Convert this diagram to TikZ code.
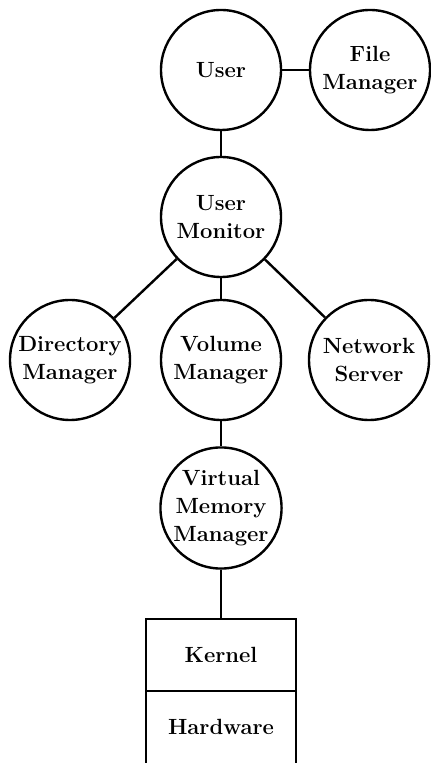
\documentclass[tikz,border=0pt]{standalone}
\usepackage{tikz}
\usetikzlibrary{positioning}

\begin{document}
\begin{tikzpicture}[
  x=0.5pt, y=-0.5pt,
  proc/.style={circle, draw, line width=1.2pt, minimum size=60pt, inner sep=0pt, align=center, font=\fontsize{11}{14}\selectfont\bfseries},
  layer/.style={rectangle, minimum width=75pt, minimum height=36pt, inner sep=0pt, outer sep=0pt, font=\fontsize{11}{14}\selectfont\bfseries},
  link/.style={line width=1.2pt}
]
\useasboundingbox (0,0) rectangle (430,763);
\node[proc] (user) at (221,70) {User};
\node[proc] (filemgr) at (370,70) {File\\Manager};
\node[proc] (usermon) at (221,217) {User\\Monitor};
\node[proc] (dirmgr) at (70,360) {Directory\\Manager};
\node[proc] (volmgr) at (221,360) {Volume\\Manager};
\node[proc] (netsrv) at (369,360) {Network\\Server};
\node[proc] (vmmgr) at (221,508) {Virtual\\Memory\\Manager};
\node[layer, draw, line width=1.2pt] (kernel) at (221,655) {Kernel};
\node[layer, below=0pt of kernel] (hardware) {Hardware};
\draw[link] (hardware.north west) -- (hardware.south west);
\draw[link] (hardware.north east) -- (hardware.south east);
\draw[link] (user) -- (filemgr);
\draw[link] (user) -- (usermon);
\draw[link] (usermon) -- (dirmgr);
\draw[link] (usermon) -- (volmgr);
\draw[link] (usermon) -- (netsrv);
\draw[link] (volmgr) -- (vmmgr);
\draw[link] (vmmgr) -- (kernel);
\end{tikzpicture}
\end{document}
